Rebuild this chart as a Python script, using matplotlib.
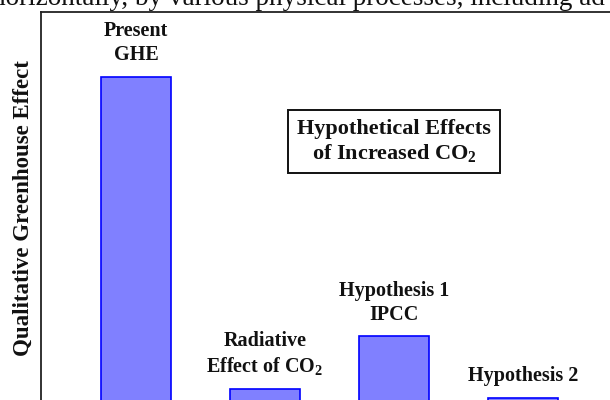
import matplotlib
matplotlib.use("Agg")
import matplotlib.pyplot as plt

plt.rcParams['font.family'] = ['Liberation Serif', 'DejaVu Serif']
plt.rcParams['mathtext.fontset'] = 'custom'
plt.rcParams['mathtext.rm'] = 'Liberation Serif:bold'
plt.rcParams['mathtext.bf'] = 'Liberation Serif:bold'
plt.rcParams['mathtext.default'] = 'bf'

categories = ["Present\nGHE", "Radiative\nEffect of CO$_2$", "Hypothesis 1\nIPCC", "Hypothesis 2"]
values = [83.7, 5.3, 18.5, 3.0]
ylabel = "Qualitative Greenhouse Effect"
box_text = "Hypothetical Effects\nof Increased CO$_2$"
top_text = "horizontally, by various physical processes, including ad"

W, H = 610, 400
fig = plt.figure(figsize=(W / 100, H / 100), dpi=100)
ax = fig.add_axes([41 / W, 1 - 410 / H, (618 - 41) / W, (410 - 12) / H])

x = list(range(len(categories)))
bars = ax.bar(x, values, width=0.54, color='#8080ff', edgecolor='#0000ff', linewidth=1.2)
ax.set_xlim(-0.736, 3.736)
ax.set_ylim(0, 100)

for xi, v, lab in zip(x, values, categories):
    ax.annotate(lab, xy=(xi, v), xytext=(0, 8.5), textcoords='offset points',
                ha='center', va='bottom', fontsize=14.5, fontweight='bold',
                linespacing=1.25, color='#111111')

ax.text(0.612, 0.674, box_text, transform=ax.transAxes, ha='center', va='center',
        fontsize=16, fontweight='bold', linespacing=1.2, color='#111111',
        bbox=dict(boxstyle='square,pad=0.4', facecolor='white', edgecolor='#111111', linewidth=1.4))

for s in ['left', 'top']:
    ax.spines[s].set_color('#222222')
    ax.spines[s].set_linewidth(1.3)
for s in ['right', 'bottom']:
    ax.spines[s].set_visible(False)
ax.set_xticks([])
ax.set_yticks([])

fig.text(23 / W, 1 - 208 / H, ylabel, rotation=90, ha='center', va='center',
         fontsize=16.5, fontweight='bold', color='#111111')
fig.text(-0.013, 1 - 5 / H, top_text, ha='left', va='baseline', fontsize=19.5, color='#111111')

fig.savefig("out.png", dpi=100)
